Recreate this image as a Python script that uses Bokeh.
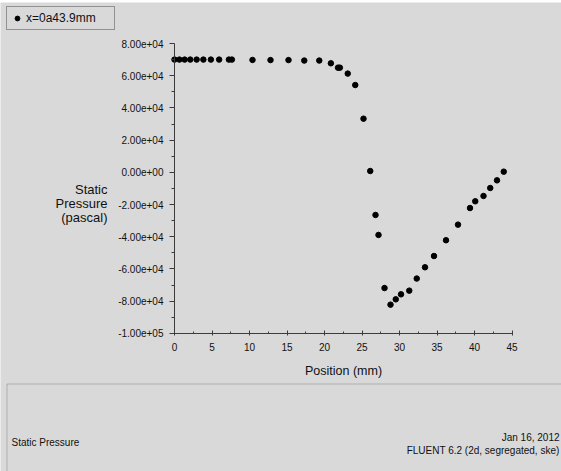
from bokeh.plotting import figure
from bokeh.models import (ColumnDataSource, Range1d, FixedTicker, CustomJSTickFormatter,
                          Legend, LegendItem, Label, BoxAnnotation)
from bokeh.layouts import column
from bokeh.embed import file_html
from bokeh.resources import INLINE

# Static pressure along the line x = 0 .. 43.9 mm
position_mm = [0.0, 0.65, 1.35, 2.1, 2.95, 3.85, 4.85, 5.95, 7.25, 7.65,
               10.4, 12.8, 15.2, 17.3, 19.3, 20.85, 21.8, 22.05, 23.1, 24.1,
               25.2, 26.1, 26.8, 27.2, 28.0, 28.8, 29.5, 30.2, 31.3, 32.3,
               33.4, 34.6, 36.2, 37.8, 39.4, 40.1, 41.2, 42.1, 43.0, 43.9]
static_pressure_pa = [70000, 70000, 70000, 70000, 70000, 70000, 70000, 70000, 70000, 70000,
                      69800, 69700, 69700, 69400, 69400, 67700, 65000, 65000, 61300, 54200,
                      33300, 800, -26500, -38900, -71900, -82200, -78900, -75800, -73500, -66000,
                      -59000, -52000, -42200, -32500, -22200, -18000, -14700, -9750, -5000, 400]

series_label = "x=0a43.9mm"
x_ticks = [0, 5, 10, 15, 20, 25, 30, 35, 40, 45]
x_minor_ticks = [2.5, 7.5, 12.5, 17.5, 22.5, 27.5, 32.5, 37.5, 42.5]
y_ticks = [-100000, -80000, -60000, -40000, -20000, 0, 20000, 40000, 60000, 80000]
y_minor_ticks = [-90000, -70000, -50000, -30000, -10000, 10000, 30000, 50000, 70000]
y_title_lines = ["Static", "Pressure", "(pascal)"]
x_title = "Position (mm)"
footer_left = "Static Pressure"
footer_date = "Jan 16, 2012"
footer_solver = "FLUENT 6.2 (2d, segregated, ske)"

BG = "#d9d9d9"
INK = "#111111"
AXIS = "#3c3c3c"
FONT = "Liberation Sans"

# The plotting frame covers the whole canvas; the axes are pinned inside it.
W, H = 561, 469          # canvas size (page is 2 px taller: white strip on top)
TOP = 2                  # page y of the canvas top
PX_PER_MM = 7.5
PX_PER_PA = 289.8 / 180000.0
X_ORIGIN_PX = 174.0      # page x of 0 mm
Y_TOP_PX = 43.0          # page y of 8e4 Pa

def xd(px):
    """page x pixel -> mm"""
    return (px - X_ORIGIN_PX) / PX_PER_MM

def yd(py):
    """page y pixel -> Pa"""
    return 80000.0 - (py - Y_TOP_PX) / PX_PER_PA

p = figure(frame_width=W, frame_height=H,
           x_range=Range1d(xd(0), xd(W)), y_range=Range1d(yd(TOP + H), yd(TOP)),
           min_border_left=0, min_border_right=0,
           min_border_top=0, min_border_bottom=0,
           output_backend="svg", toolbar_location=None,
           background_fill_color=BG, border_fill_color=BG)
p.outline_line_color = None
p.grid.visible = False

src = ColumnDataSource(data=dict(x=position_mm, y=static_pressure_pa))
pts = p.scatter(x="x", y="y", source=src, size=5.5, marker="circle",
                fill_color="black", line_color="black")

xa = p.xaxis[0]
xa.fixed_location = y_ticks[0]
xa.bounds = (x_ticks[0], x_ticks[-1])
xa.ticker = FixedTicker(ticks=x_ticks, minor_ticks=x_minor_ticks)
xa.axis_line_color = AXIS
xa.major_tick_line_color = AXIS
xa.minor_tick_line_color = AXIS
xa.major_tick_in = 3
xa.major_tick_out = 2
xa.minor_tick_in = 2
xa.minor_tick_out = 0
xa.major_label_standoff = 8
xa.major_label_text_font = FONT
xa.major_label_text_font_size = "10px"
xa.major_label_text_color = INK
xa.axis_label = x_title
xa.axis_label_text_font = FONT
xa.axis_label_text_font_size = "12.5px"
xa.axis_label_text_font_style = "normal"
xa.axis_label_text_color = INK
xa.axis_label_standoff = 9

ya = p.yaxis[0]
ya.fixed_location = x_ticks[0]
ya.bounds = (y_ticks[0], y_ticks[-1])
ya.ticker = FixedTicker(ticks=y_ticks, minor_ticks=y_minor_ticks)
ya.formatter = CustomJSTickFormatter(code="""
    const s = tick.toExponential(2);
    const parts = s.split("e");
    const sign = parts[1][0];
    const digits = parts[1].slice(1).padStart(2, "0");
    return parts[0] + "e" + sign + digits;
""")
ya.axis_line_color = AXIS
ya.major_tick_line_color = AXIS
ya.minor_tick_line_color = AXIS
ya.major_tick_in = 0
ya.major_tick_out = 5
ya.minor_tick_in = 0
ya.minor_tick_out = 3
ya.major_label_standoff = 6
ya.major_label_text_font = FONT
ya.major_label_text_font_size = "10px"
ya.major_label_text_color = INK

# horizontal y-axis title, one label per line, right aligned
for line, py in zip(y_title_lines, [189.0, 203.0, 217.0]):
    p.add_layout(Label(x=xd(107), y=yd(py), text=line, text_align="right",
                       text_baseline="middle", text_font=FONT,
                       text_font_size="13px", text_color=INK))

# legend box in the top-left corner of the window
legend = Legend(items=[LegendItem(label=series_label, renderers=[pts])],
                location=(6, TOP + H - 30), orientation="vertical",
                padding=4, glyph_width=12, glyph_height=12,
                label_standoff=3, label_width=84, label_height=14,
                label_text_font=FONT, label_text_font_size="12px",
                label_text_color=INK,
                border_line_color="#4a4a4a", border_line_width=1,
                background_fill_color=BG, background_fill_alpha=1.0)
p.add_layout(legend, "center")

# footer panel: framed box along the bottom with run information
p.add_layout(BoxAnnotation(left=xd(6.5), right=xd(W + 40),
                           top=yd(383.5), bottom=yd(TOP + H + 40),
                           fill_color=None, fill_alpha=0,
                           line_color="#505050", line_width=1))
p.add_layout(Label(x=xd(11), y=yd(442), text=footer_left, text_align="left",
                   text_baseline="middle", text_font=FONT,
                   text_font_size="10px", text_color=INK))
p.add_layout(Label(x=xd(559), y=yd(436.5), text=footer_date, text_align="right",
                   text_baseline="middle", text_font=FONT,
                   text_font_size="10px", text_color=INK))
p.add_layout(Label(x=xd(559), y=yd(450), text=footer_solver, text_align="right",
                   text_baseline="middle", text_font=FONT,
                   text_font_size="10px", text_color=INK))

layout = column(p, spacing=0)
layout.margin = (TOP, 0, 0, 0)

open("out.html", "w").write(file_html(layout, INLINE))
